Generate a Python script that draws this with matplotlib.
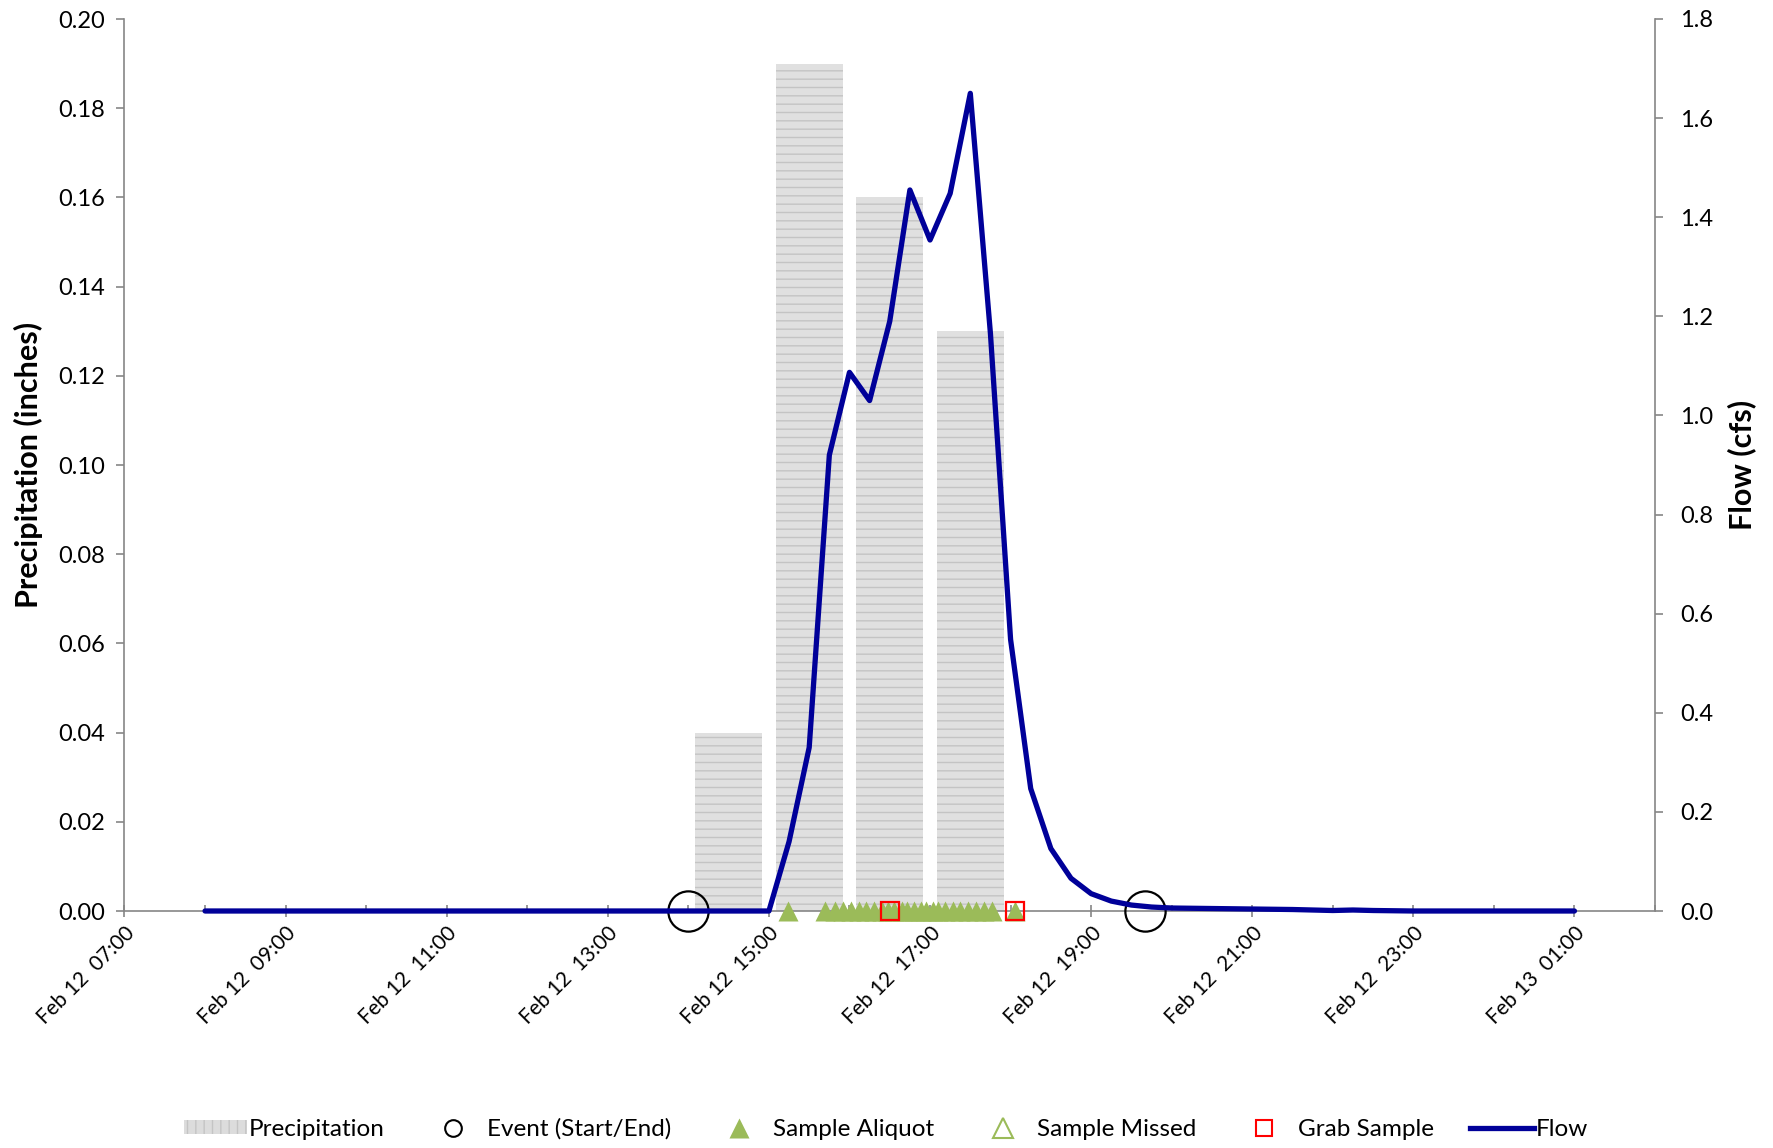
import matplotlib
matplotlib.use('Agg')
import matplotlib.pyplot as plt
import matplotlib.dates as mdates
from matplotlib.lines import Line2D
from matplotlib.patches import Patch
import pandas as pd

plt.rcParams['font.family'] = ['Lato', 'DejaVu Sans']
plt.rcParams['hatch.linewidth'] = 1.0

DAY = '2015-02-12 '
NEXT = '2015-02-13 '

# ---------------- data ----------------
precip_times = ['14:30', '15:30', '16:30', '17:30']
precip_inches = [0.04, 0.19, 0.16, 0.13]

flow_times = ['08:00', '15:00', '15:15', '15:30', '15:45', '16:00', '16:15', '16:30',
              '16:45', '17:00', '17:15', '17:30', '17:45', '18:00', '18:15', '18:30',
              '18:45', '19:00', '19:15', '19:30', '19:45', '20:00', '20:30', '21:00',
              '21:30', '22:00', '22:15', '22:30', '23:00']
flow_cfs = [0.0, 0.0, 0.14, 0.33, 0.92, 1.087, 1.03, 1.19,
            1.455, 1.354, 1.448, 1.65, 1.165, 0.548, 0.247, 0.126,
            0.066, 0.035, 0.020, 0.012, 0.008, 0.006, 0.005, 0.004,
            0.003, 0.001, 0.002, 0.001, 0.0]
flow_end_next_day = ['01:00']
flow_end_values = [0.0]

event_times = ['14:00', '19:40']
aliquot_times = ['15:14', '15:42', '15:49', '15:55', '16:01', '16:07', '16:12', '16:18',
                 '16:24', '16:29', '16:33', '16:39', '16:43', '16:48', '16:53', '16:57',
                 '17:02', '17:06', '17:11', '17:17', '17:22', '17:28', '17:34', '17:40',
                 '17:46', '18:03']
missed_times = []
grab_times = ['16:30', '18:03']

precip_ticks = [0.00, 0.02, 0.04, 0.06, 0.08, 0.10, 0.12, 0.14, 0.16, 0.18, 0.20]
flow_ticks = [0.0, 0.2, 0.4, 0.6, 0.8, 1.0, 1.2, 1.4, 1.6, 1.8]

# ---------------- helpers ----------------
def to_dt(times, day=DAY):
    return pd.to_datetime([day + t for t in times])

GRAY = '#868686'
BLUE = '#000099'
GREEN = '#9BBB59'

fig = plt.figure(figsize=(17.74, 11.48), dpi=100)
ax = fig.add_axes([124.5 / 1774, 1 - 911 / 1148, (1655 - 124.5) / 1774, (911 - 19) / 1148])
ax2 = ax.twinx()

# precipitation bars
bar_x = mdates.date2num(to_dt(precip_times))
ax.bar(bar_x, precip_inches, width=50 / 1440, color='#e0e0e0', edgecolor='#c4c4c4',
       linewidth=0, hatch='--', zorder=1)

ax.set_ylim(0, 0.20)
ax.set_yticks(precip_ticks)
ax.set_yticklabels([f'{v:.2f}' for v in precip_ticks])
ax.set_xlim(mdates.date2num(pd.Timestamp(DAY + '07:00')), mdates.date2num(pd.Timestamp(NEXT + '02:00')))

# flow line
fx = list(to_dt(flow_times)) + list(to_dt(flow_end_next_day, NEXT))
fy = flow_cfs + flow_end_values
ax2.plot(mdates.date2num(fx), fy, color=BLUE, lw=3.8, solid_capstyle='round',
         solid_joinstyle='round', zorder=4, clip_on=False)

# markers
ev = mdates.date2num(to_dt(event_times))
ax2.plot(ev, [0] * len(ev), 'o', ms=29, mfc='none', mec='black', mew=1.6, clip_on=False, zorder=3)
al = mdates.date2num(to_dt(aliquot_times))
ax2.plot(al, [0] * len(al), '^', ms=14.5, color=GREEN, mec='none', clip_on=False, zorder=5)
if missed_times:
    mi = mdates.date2num(to_dt(missed_times))
    ax2.plot(mi, [0] * len(mi), '^', ms=14.5, mfc='none', mec=GREEN, clip_on=False, zorder=5)
gr = mdates.date2num(to_dt(grab_times))
ax2.plot(gr, [0] * len(gr), 's', ms=13.5, mfc='none', mec='#FF0000', mew=1.6, clip_on=False, zorder=6)

ax2.set_ylim(0, 1.8)
ax2.set_yticks(flow_ticks)
ax2.set_yticklabels([f'{v:.1f}' for v in flow_ticks])

# x axis
ax.xaxis.set_major_locator(mdates.HourLocator(byhour=range(1, 24, 2)))
ax.xaxis.set_minor_locator(mdates.HourLocator())
ax.xaxis.set_major_formatter(mdates.DateFormatter('%b %d  %H:%M'))
for lbl in ax.get_xticklabels():
    lbl.set_rotation(45)
    lbl.set_ha('right')
    lbl.set_rotation_mode('anchor')
    lbl.set_fontsize(15)

# spines & ticks
for s in ['top']:
    ax.spines[s].set_visible(False)
    ax2.spines[s].set_visible(False)
ax2.spines['left'].set_visible(False)
ax2.spines['bottom'].set_visible(False)
ax.spines['right'].set_visible(False)
for sp in [ax.spines['left'], ax.spines['bottom'], ax2.spines['right']]:
    sp.set_color(GRAY)
    sp.set_linewidth(1.2)

ax.tick_params(axis='y', direction='out', length=6, width=1.2, color=GRAY, labelsize=17, pad=8)
ax.tick_params(axis='x', which='major', direction='inout', length=9, width=1.2, color=GRAY, pad=4)
ax.tick_params(axis='x', which='minor', direction='in', length=4, width=1.2, color=GRAY)
ax2.tick_params(axis='y', direction='out', length=6, width=1.2, color=GRAY, labelsize=17, pad=12)

ax.set_ylabel('Precipitation (inches)', fontsize=22, fontweight='bold')
ax.yaxis.set_label_coords(-0.053, 0.5)
ax2.set_ylabel('Flow (cfs)', fontsize=22, fontweight='bold')
ax2.yaxis.set_label_coords(1.047, 0.5)

# legend
handles = [
    Patch(facecolor='#dcdcdc', edgecolor='#c4c4c4', hatch='||', linewidth=0),
    Line2D([], [], ls='none', marker='o', ms=12, mfc='none', mec='black', mew=1.5),
    Line2D([], [], ls='none', marker='^', ms=14, color=GREEN, mec='none'),
    Line2D([], [], ls='none', marker='^', ms=14, mfc='none', mec=GREEN, mew=1.5),
    Line2D([], [], ls='none', marker='s', ms=12, mfc='none', mec='#FF0000', mew=1.5),
    Line2D([], [], color=BLUE, lw=3.8),
]
labels = ['Precipitation', 'Event (Start/End)', 'Sample Aliquot', 'Sample Missed', 'Grab Sample', 'Flow']
fig.legend(handles, labels, loc='center', bbox_to_anchor=(0.4994, 1 - 1129 / 1148), ncol=6,
           frameon=False, fontsize=17.5, handlelength=2.6, handleheight=0.5, handletextpad=0.1,
           columnspacing=1.5)

fig.savefig('out.png', dpi=100)
